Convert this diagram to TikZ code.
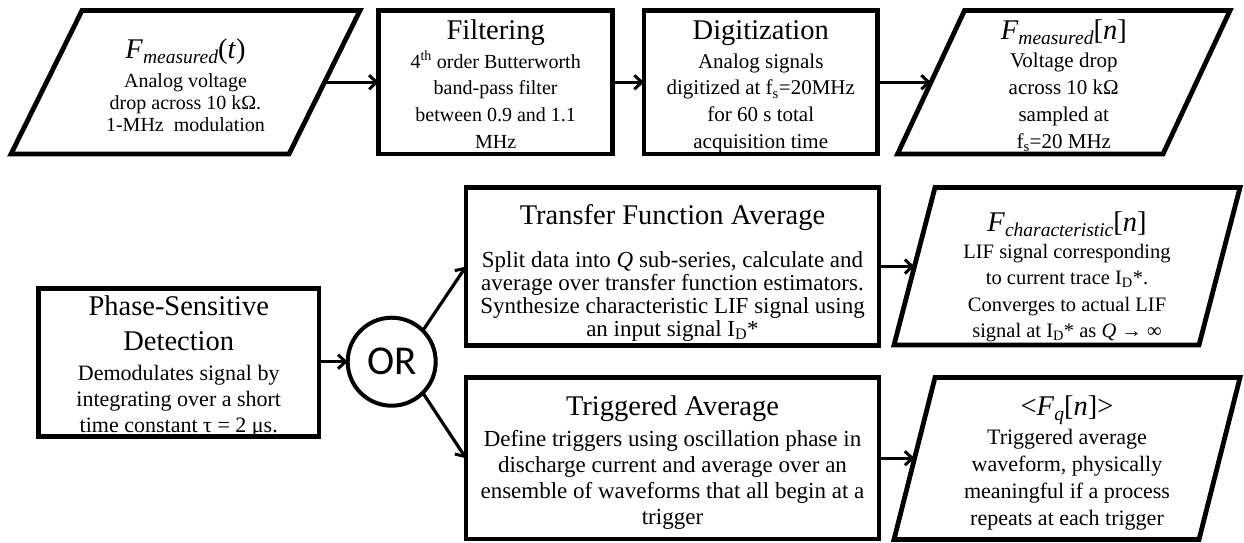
\documentclass[tikz,border=0pt]{standalone}
\usepackage{fontspec}
\setmainfont{Liberation Serif}
\newfontfamily\orfont{Carlito}
\usetikzlibrary{calc,arrows.meta}

\lineskiplimit=-100pt
\newcommand\bodyfont[2]{\fontsize{#1}{#2}\selectfont}
\newcommand\headfont{\fontsize{28.5}{30}\selectfont}
\newcommand\subfont{\fontsize{19.5}{20}\selectfont\itshape}
\newcommand\lowsub[1]{\raisebox{-0.4ex}{\subfont #1}}
% fixed height of the first line and depth of the last line of a node text
\newcommand\topstrut[1]{\rule{0pt}{#1pt}}
\newcommand\botstrut[1]{\rule[-#1pt]{0pt}{#1pt}}

\tikzset{
  border/.style={line width=4.8pt, line join=miter},
  block/.style={draw, border, rectangle, inner sep=0pt, outer sep=0pt, align=center},
  iotext/.style={rectangle, inner sep=0pt, outer sep=0pt, align=center},
  orgate/.style={draw, circle, line width=4pt, minimum size=88pt, inner sep=0pt, outer sep=0pt,
                 font=\orfont\fontsize{41}{41}\selectfont},
  flow/.style={line width=3.2pt, -{Straight Barb[length=7.5pt,width=14pt,line width=3pt]}},
}

% parallelogram outline around an (undrawn) node, with in/out points on the slanted sides
\newcommand\drawpara[2]{%
  \draw[border] ($(#1.north west)+(#2,0)$) -- (#1.north east)
     -- ($(#1.south east)-(#2,0)$) -- (#1.south west) -- cycle;
  \coordinate (#1-in) at ($(#1.west)+(#2/2,0)$);
  \coordinate (#1-out) at ($(#1.east)-(#2/2,0)$);
}

\begin{document}
\begin{tikzpicture}[x=1pt,y=-1pt]
\useasboundingbox (0,0) rectangle (1244,542);

% ---- acquisition chain ----
\node[iotext, minimum width=349pt, minimum height=143.5pt, font={\bodyfont{20}{22.25}}] (meas) at (185.5,82.25)
  {\topstrut{48}{\headfont\textit{F}\lowsub{measured}(\textit{t})}\\[6.45pt]
   Analog voltage\\drop across 10 kΩ.\\1-MHz\ \ modulation\botstrut{22.3}};
\drawpara{meas}{71}

\node[block, minimum width=233.7pt, minimum height=143.5pt, font={\bodyfont{20}{26.7}}] (filt) at (495.65,82.25)
  {\topstrut{28.8}{\headfont Filtering}\\[2.3pt]
   4\textsuperscript{th} order Butterworth\\band-pass filter\\between 0.9 and 1.1\\MHz\botstrut{5.7}};

\node[block, minimum width=233.5pt, minimum height=143.5pt, font={\bodyfont{21}{26.7}}] (digit) at (760.75,82.25)
  {\topstrut{28.8}{\headfont Digitization}\\[2.3pt]
   Analog signals\\digitized at f\textsubscript{s}=20MHz\\for 60 s total\\acquisition time\botstrut{5.7}};

\node[iotext, minimum width=332.5pt, minimum height=143.5pt, font={\bodyfont{21}{27.2}}] (samp) at (1063.75,82.25)
  {\topstrut{28.8}{\headfont\textit{F}\lowsub{measured}[\textit{n}]}\\[0.5pt]
   Voltage drop\\across 10 kΩ\\sampled at\\f\textsubscript{s}=20 MHz\botstrut{5.4}};
\drawpara{samp}{67}

% ---- analysis branches ----
\node[block, minimum width=280.5pt, minimum height=147.5pt, font={\bodyfont{22}{25.6}}] (psd) at (178.75,362.75)
  {\topstrut{26.7}{\headfont Phase-Sensitive}\\[9.4pt]{\headfont Detection}\\[5pt]
   Demodulates signal by\\integrating over a short\\time constant τ = 2 μs.\botstrut{4}};

\node[orgate] (or) at (391.7,361.7) {OR};

\node[block, minimum width=413pt, minimum height=158pt, font={\bodyfont{23}{23}}] (tfa) at (672.5,266.5)
  {\topstrut{36.5}{\headfont Transfer Function Average}\\[20pt]
   Split data into \textit{Q} sub-series, calculate and\\
   average over transfer function estimators.\\
   Synthesize characteristic LIF signal using\\
   an input signal I\textsubscript{D}*\botstrut{9.5}};

\node[block, minimum width=413pt, minimum height=161.5pt, font={\bodyfont{23}{25.7}}] (trig) at (672.5,458.25)
  {\topstrut{38.5}{\headfont Triggered Average}\\[5.3pt]
   Define triggers using oscillation phase in\\
   discharge current and average over an\\
   ensemble of waveforms that all begin at a\\
   trigger\botstrut{15}};

\node[iotext, minimum width=346pt, minimum height=157.5pt, font={\bodyfont{20.5}{26.5}}] (fchar) at (1067,266.25)
  {\topstrut{43.5}{\headfont\textit{F}\lowsub{characteristic}[\textit{n}]}\\[0.5pt]
   LIF signal corresponding\\
   to current trace I\textsubscript{D}*.\\
   Converges to actual LIF\\
   signal at I\textsubscript{D}* as \textit{Q} → ∞\botstrut{7}};
\drawpara{fchar}{41}

\node[iotext, minimum width=346pt, minimum height=162pt, font={\bodyfont{22}{27}}] (favg) at (1067,458.5)
  {\topstrut{37.5}{\headfont <\textit{F}\lowsub{q}[\textit{n}]>}\\[2.5pt]
   Triggered average\\
   waveform, physically\\
   meaningful if a process\\
   repeats at each trigger\botstrut{14}};
\drawpara{favg}{41}

% ---- connectors ----
\draw[flow] (meas-out) -- (filt.west);
\draw[flow] (filt.east) -- (digit.west);
\draw[flow] (digit.east) -- (samp-in);
\draw[flow] (psd.east |- or) -- (or.west);
\draw[flow] (or.45) -- (tfa.west);
\draw[flow] (or.-45) -- (trig.west);
\draw[flow] (tfa.east) -- (tfa.east -| fchar-in);
\draw[flow] (trig.east) -- (trig.east -| favg-in);
\end{tikzpicture}
\end{document}
